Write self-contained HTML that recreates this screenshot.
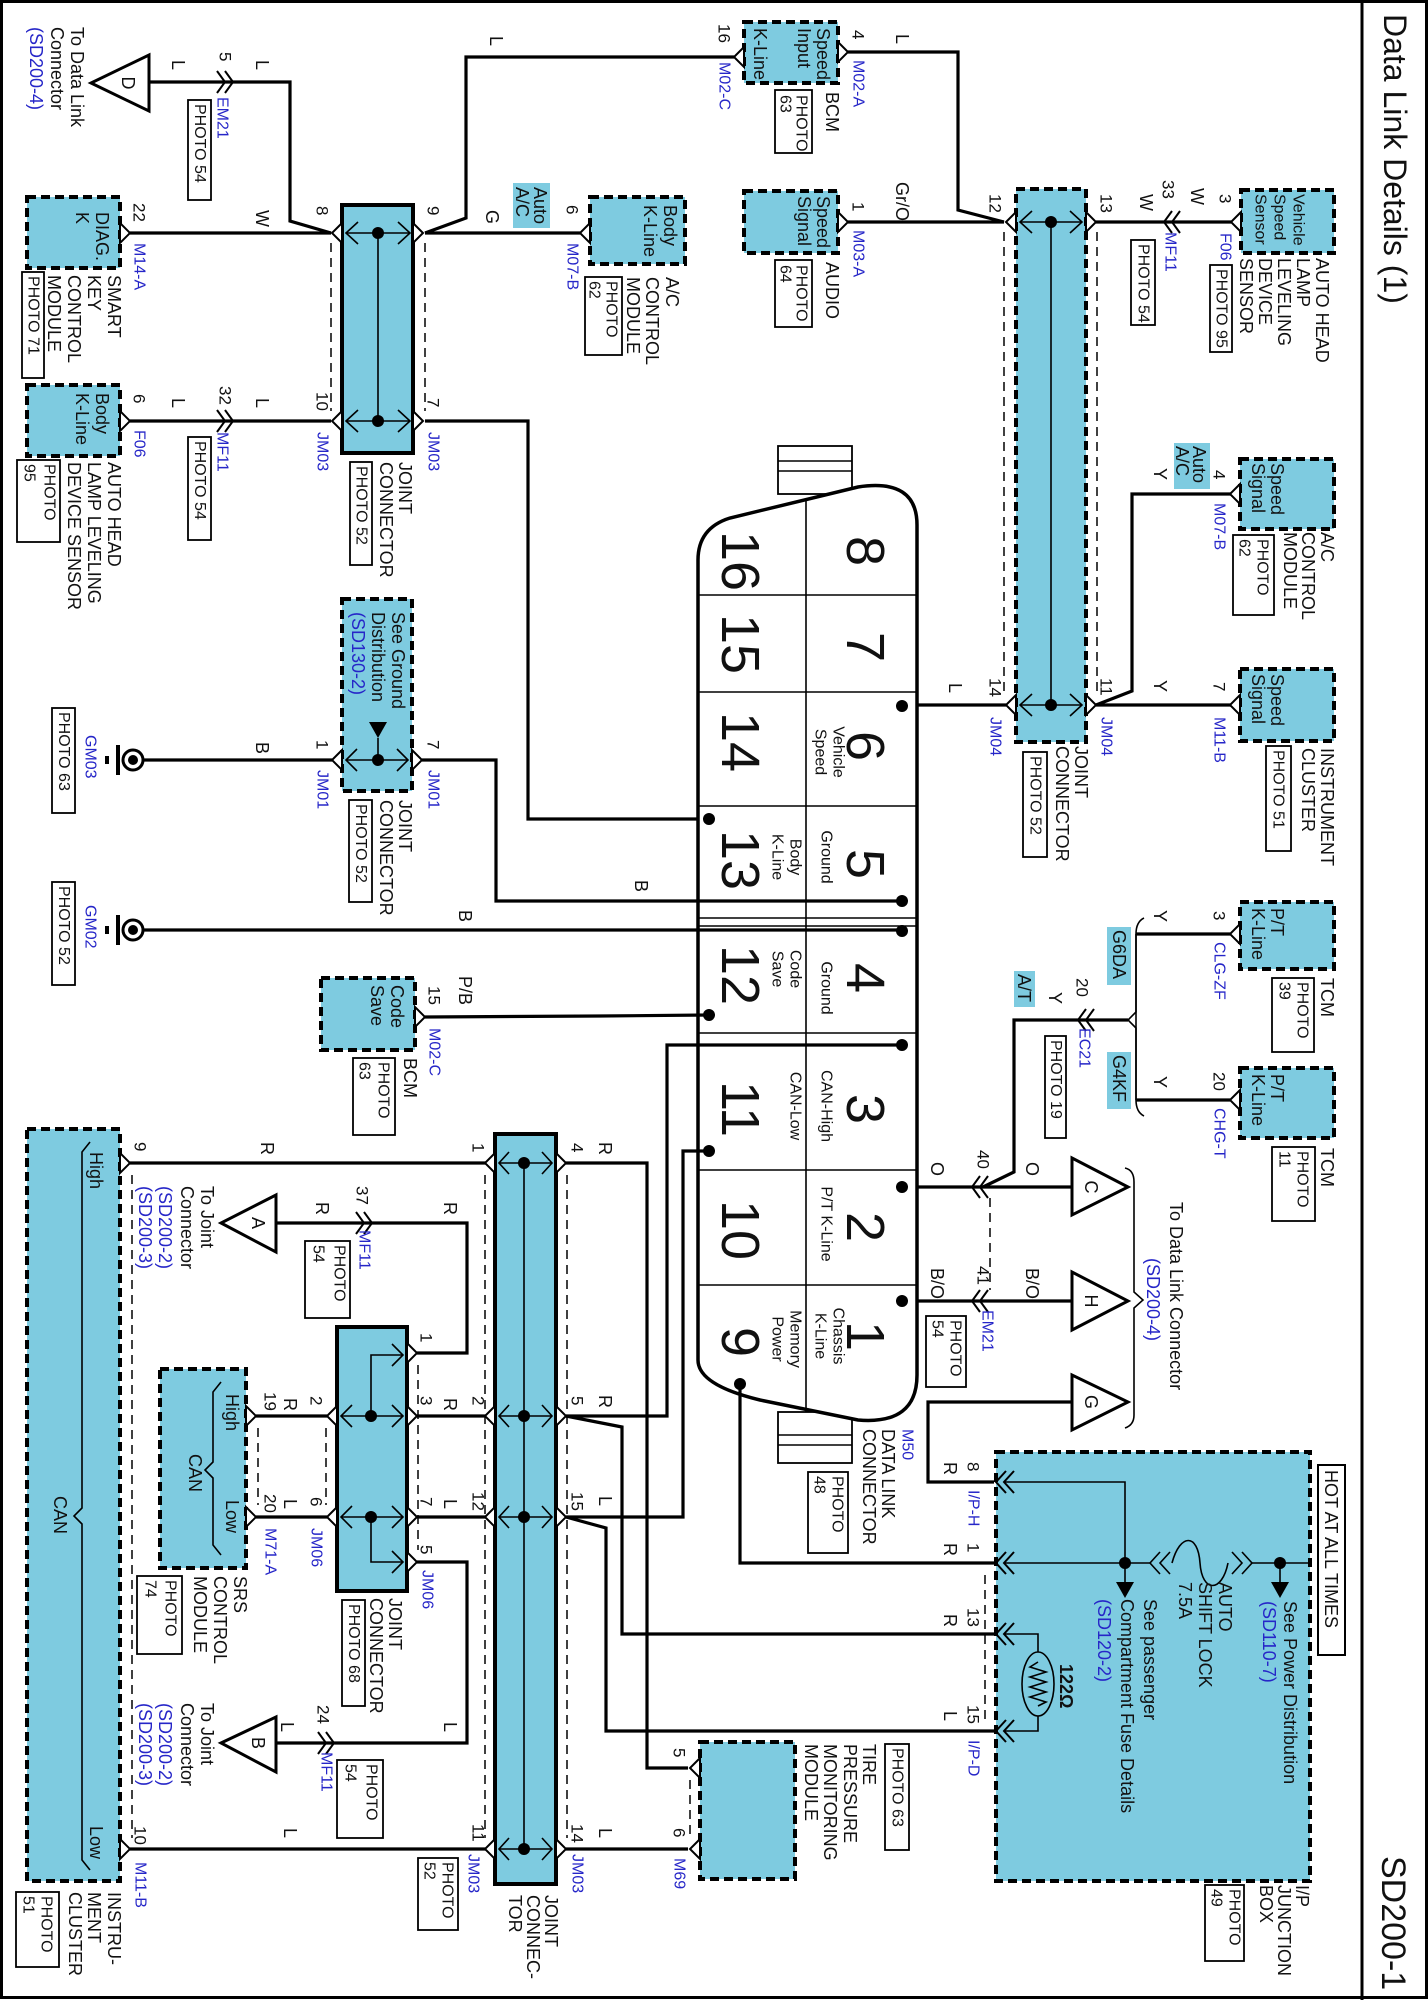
<!DOCTYPE html>
<html><head><meta charset="utf-8">
<style>
html,body{margin:0;padding:0;background:#fff}
svg{display:block}
svg text{font-family:"Liberation Sans",Arial,Helvetica,sans-serif;font-size:18px;fill:#111;dominant-baseline:central}
svg .s{font-size:16px}
svg .p{font-size:17px}
svg .b{fill:#2626c8}
svg .big{font-size:54px}
.w{fill:none;stroke:#000;stroke-width:3.2;stroke-linejoin:miter}
.th{fill:none;stroke:#000;stroke-width:1.6}
.dl{fill:none;stroke:#000;stroke-width:1.5;stroke-dasharray:9 6}
.box{fill:#7ecbe0;stroke:#000;stroke-width:4;stroke-dasharray:9 5}
.sb{fill:#7ecbe0;stroke:#000;stroke-width:4}
.ph{fill:#fff;stroke:#000;stroke-width:1.8}
.hl{fill:#7ecbe0}
.pin{fill:#fff;stroke:#000;stroke-width:2}
.ch{fill:none;stroke:#000;stroke-width:2}
</style></head><body>
<svg width="1428" height="2000" viewBox="0 0 1428 2000" xmlns="http://www.w3.org/2000/svg" font-family="Liberation Sans, Arial, sans-serif">
<rect x="1.5" y="1.5" width="1425" height="1996" fill="none" stroke="#000" stroke-width="3"/>
<line x1="1362" y1="0" x2="1362" y2="2000" stroke="#000" stroke-width="3"/>
<text transform="translate(1395,14) rotate(90)" style="font-size:32px">Data Link Details (1)</text>
<text transform="translate(1393,1856) rotate(90)" style="font-size:34px">SD200-1</text>

<!-- ============ TOP LEFT ============ -->
<polygon points="149,55 149,111 91,83" fill="#fff" stroke="#000" stroke-width="3"/>
<text transform="translate(128,83) rotate(90)" text-anchor="middle">D</text>
<text transform="translate(77,27) rotate(90)">To Data Link</text>
<text transform="translate(57,27) rotate(90)">Connector</text>
<text transform="translate(36,27) rotate(90)" class="b">(SD200-4)</text>
<polyline class="w" points="149,82 290,82 290,221 331,233"/>
<polyline class="ch" points="217,71 225,82 217,93"/><polyline class="ch" points="225,71 233,82 225,93"/>
<text transform="translate(178,60) rotate(90)">L</text>
<text transform="translate(262,60) rotate(90)">L</text>
<text class="p" transform="translate(225,52) rotate(90)">5</text>
<text class="s b" transform="translate(222,97) rotate(90)">EM21</text>
<rect class="ph" x="188" y="100" width="23" height="100"/>
<text class="s" transform="translate(199.5,104) rotate(90)">PHOTO 54</text>

<rect class="box" x="27" y="197" width="93" height="71"/>
<text transform="translate(102,212) rotate(90)">DIAG.</text>
<text transform="translate(82,212) rotate(90)">K</text>
<polygon class="pin" points="120,223 130,233 120,243"/>
<line class="w" x1="130" y1="233" x2="331" y2="233"/>
<text class="p" transform="translate(139,203) rotate(90)">22</text>
<text class="s b" transform="translate(139,243) rotate(90)">M14-A</text>
<text transform="translate(262,210) rotate(90)">W</text>
<text transform="translate(114,275) rotate(90)">SMART</text>
<text transform="translate(94,275) rotate(90)">KEY</text>
<text transform="translate(74,275) rotate(90)">CONTROL</text>
<text transform="translate(54,275) rotate(90)">MODULE</text>
<rect class="ph" x="22" y="272" width="22" height="106"/>
<text class="s" transform="translate(33,276) rotate(90)">PHOTO 71</text>

<rect class="box" x="27" y="385" width="93" height="71"/>
<text transform="translate(102,393) rotate(90)">Body</text>
<text transform="translate(82,393) rotate(90)">K-Line</text>
<polygon class="pin" points="120,411 130,421 120,431"/>
<line class="w" x1="130" y1="421" x2="331" y2="421"/>
<polyline class="ch" points="217,410 225,421 217,432"/><polyline class="ch" points="225,410 233,421 225,432"/>
<text class="p" transform="translate(139,394) rotate(90)">6</text>
<text class="s b" transform="translate(139,430) rotate(90)">F06</text>
<text class="p" transform="translate(225,386) rotate(90)">32</text>
<text transform="translate(178,398) rotate(90)">L</text>
<text transform="translate(262,398) rotate(90)">L</text>
<text class="s b" transform="translate(222,432) rotate(90)">MF11</text>
<rect class="ph" x="188" y="437" width="23" height="103"/>
<text class="s" transform="translate(199.5,441) rotate(90)">PHOTO 54</text>
<text transform="translate(114,462) rotate(90)">AUTO HEAD</text>
<text transform="translate(94,462) rotate(90)">LAMP LEVELING</text>
<text transform="translate(74,462) rotate(90)">DEVICE SENSOR</text>
<rect class="ph" x="17" y="460" width="43" height="82"/>
<text class="s" transform="translate(49,464) rotate(90)">PHOTO</text>
<text class="s" transform="translate(29,464) rotate(90)">95</text>

<!-- JM03 top -->
<rect class="sb" x="342" y="205" width="71" height="248"/>
<line class="dl" x1="331" y1="243" x2="331" y2="411"/>
<line class="dl" x1="425" y1="243" x2="425" y2="411"/>
<line class="th" x1="378" y1="233" x2="378" y2="421"/>
<line class="th" x1="346" y1="233" x2="410" y2="233"/>
<line class="th" x1="346" y1="421" x2="410" y2="421"/>
<polyline class="th" points="358,222 346,233 358,244"/><polyline class="th" points="398,222 410,233 398,244"/>
<polyline class="th" points="358,410 346,421 358,432"/><polyline class="th" points="398,410 410,421 398,432"/>
<circle cx="378" cy="233" r="6"/><circle cx="378" cy="421" r="6"/>
<polygon class="pin" points="342,223 332,233 342,243"/><polygon class="pin" points="413,223 423,233 413,243"/>
<polygon class="pin" points="342,411 332,421 342,431"/><polygon class="pin" points="413,411 423,421 413,431"/>
<text class="p" transform="translate(322,206) rotate(90)">8</text>
<text class="p" transform="translate(322,392) rotate(90)">10</text>
<text class="p" transform="translate(433,206) rotate(90)">9</text>
<text class="p" transform="translate(433,398) rotate(90)">7</text>
<text class="s b" transform="translate(322,432) rotate(90)">JM03</text>
<text class="s b" transform="translate(433,432) rotate(90)">JM03</text>
<text transform="translate(405,462) rotate(90)">JOINT</text>
<text transform="translate(386,462) rotate(90)">CONNECTOR</text>
<rect class="ph" x="350" y="462" width="22" height="103"/>
<text class="s" transform="translate(361,466) rotate(90)">PHOTO 52</text>

<line class="w" x1="425" y1="233" x2="580" y2="233"/>
<polyline class="w" points="425,233 466,218 466,57 734,57"/>
<polyline class="w" points="425,421 528,421 528,819 709,819"/>
<text transform="translate(496,36) rotate(90)">L</text>
<text transform="translate(492,210) rotate(90)">G</text>
<rect class="hl" x="513" y="183" width="37" height="45"/>
<text transform="translate(540,187) rotate(90)">Auto</text>
<text transform="translate(522,187) rotate(90)">A/C</text>
<rect class="box" x="590" y="197" width="95" height="67"/>
<polygon class="pin" points="590,223 580,233 590,243"/>
<text transform="translate(670,205) rotate(90)">Body</text>
<text transform="translate(650,205) rotate(90)">K-Line</text>
<text class="p" transform="translate(572,205) rotate(90)">6</text>
<text class="s b" transform="translate(572,243) rotate(90)">M07-B</text>
<text transform="translate(672,277) rotate(90)">A/C</text>
<text transform="translate(652,277) rotate(90)">CONTROL</text>
<text transform="translate(633,277) rotate(90)">MODULE</text>
<rect class="ph" x="585" y="277" width="37" height="78"/>
<text class="s" transform="translate(611,281) rotate(90)">PHOTO</text>
<text class="s" transform="translate(594,281) rotate(90)">62</text>

<!-- BCM top -->
<rect class="box" x="744" y="22" width="94" height="61"/>
<text transform="translate(823,28) rotate(90)">Speed</text>
<text transform="translate(804,28) rotate(90)">Input</text>
<text transform="translate(760,28) rotate(90)">K-Line</text>
<polygon class="pin" points="744,47 734,57 744,67"/>
<polygon class="pin" points="838,42 848,52 838,62"/>
<text class="p" transform="translate(724,24) rotate(90)">16</text>
<text class="s b" transform="translate(724,62) rotate(90)">M02-C</text>
<text class="p" transform="translate(858,30) rotate(90)">4</text>
<text class="s b" transform="translate(858,60) rotate(90)">M02-A</text>
<polyline class="w" points="848,52 958,52 958,210 1004,222"/>
<text transform="translate(902,34) rotate(90)">L</text>
<text transform="translate(832,92) rotate(90)">BCM</text>
<rect class="ph" x="775" y="90" width="37" height="63"/>
<text class="s" transform="translate(801,95) rotate(90)">PHOTO</text>
<text class="s" transform="translate(785,95) rotate(90)">63</text>

<rect class="box" x="744" y="191" width="94" height="62"/>
<text transform="translate(823,196) rotate(90)">Speed</text>
<text transform="translate(804,196) rotate(90)">Signal</text>
<polygon class="pin" points="838,212 848,222 838,232"/>
<line class="w" x1="848" y1="222" x2="1004" y2="222"/>
<text class="p" transform="translate(858,202) rotate(90)">1</text>
<text class="s b" transform="translate(858,230) rotate(90)">M03-A</text>
<text transform="translate(902,182) rotate(90)">Gr/O</text>
<text transform="translate(832,262) rotate(90)">AUDIO</text>
<rect class="ph" x="775" y="260" width="37" height="67"/>
<text class="s" transform="translate(801,265) rotate(90)">PHOTO</text>
<text class="s" transform="translate(785,265) rotate(90)">64</text>

<!-- JM04 -->
<rect class="box" x="1016" y="189" width="70" height="553"/>
<line class="dl" x1="1004" y1="232" x2="1004" y2="695"/>
<line class="dl" x1="1097" y1="232" x2="1097" y2="695"/>
<line class="th" x1="1051" y1="222" x2="1051" y2="705"/>
<line class="th" x1="1020" y1="222" x2="1082" y2="222"/>
<line class="th" x1="1020" y1="705" x2="1082" y2="705"/>
<polyline class="th" points="1032,211 1020,222 1032,233"/><polyline class="th" points="1070,211 1082,222 1070,233"/>
<polyline class="th" points="1032,694 1020,705 1032,716"/><polyline class="th" points="1070,694 1082,705 1070,716"/>
<circle cx="1051" cy="222" r="6"/><circle cx="1051" cy="705" r="6"/>
<polygon class="pin" points="1016,212 1006,222 1016,232"/><polygon class="pin" points="1086,212 1096,222 1086,232"/>
<polygon class="pin" points="1016,695 1006,705 1016,715"/><polygon class="pin" points="1086,695 1096,705 1086,715"/>
<text class="p" transform="translate(995,194) rotate(90)">12</text>
<text class="p" transform="translate(1106,194) rotate(90)">13</text>
<text class="p" transform="translate(995,678) rotate(90)">14</text>
<text class="p" transform="translate(1106,678) rotate(90)">11</text>
<text class="s b" transform="translate(995,717) rotate(90)">JM04</text>
<text class="s b" transform="translate(1106,717) rotate(90)">JM04</text>
<text transform="translate(1081,746) rotate(90)">JOINT</text>
<text transform="translate(1062,746) rotate(90)">CONNECTOR</text>
<rect class="ph" x="1023" y="752" width="24" height="105"/>
<text class="s" transform="translate(1035,756) rotate(90)">PHOTO 52</text>

<line class="w" x1="1096" y1="222" x2="1231" y2="222"/>
<polyline class="ch" points="1172,211 1164,222 1172,233"/><polyline class="ch" points="1180,211 1172,222 1180,233"/>
<text class="p" transform="translate(1168,180) rotate(90)">33</text>
<text transform="translate(1146,194) rotate(90)">W</text>
<text transform="translate(1197,188) rotate(90)">W</text>
<text class="s b" transform="translate(1170,232) rotate(90)">MF11</text>
<rect class="ph" x="1131" y="240" width="24" height="85"/>
<text class="s" transform="translate(1143,244) rotate(90)">PHOTO 54</text>
<rect class="box" x="1241" y="190" width="93" height="63"/>
<polygon class="pin" points="1241,212 1231,222 1241,232"/>
<text class="s" transform="translate(1298,194) rotate(90)">Vehicle</text>
<text class="s" transform="translate(1279,194) rotate(90)">Speed</text>
<text class="s" transform="translate(1260,194) rotate(90)">Sensor</text>
<text class="p" transform="translate(1225,194) rotate(90)">3</text>
<text class="s b" transform="translate(1225,233) rotate(90)">F06</text>
<rect class="ph" x="1210" y="265" width="22" height="87"/>
<text class="s" transform="translate(1221,269) rotate(90)">PHOTO 95</text>
<text transform="translate(1322,258) rotate(90)">AUTO HEAD</text>
<text transform="translate(1303,258) rotate(90)">LAMP</text>
<text transform="translate(1284,258) rotate(90)">LEVELING</text>
<text transform="translate(1265,258) rotate(90)">DEVICE</text>
<text transform="translate(1246,258) rotate(90)">SENSOR</text>

<!-- A/C speed signal + instrument -->
<polyline class="w" points="1096,705 1132,691 1132,494 1231,494"/>
<line class="w" x1="1096" y1="705" x2="1231" y2="705"/>
<line class="w" x1="903" y1="705" x2="1006" y2="705"/>
<text transform="translate(955,683) rotate(90)">L</text>
<text transform="translate(1160,468) rotate(90)">Y</text>
<text transform="translate(1160,680) rotate(90)">Y</text>
<rect class="hl" x="1174" y="443" width="36" height="46"/>
<text transform="translate(1199,446) rotate(90)">Auto</text>
<text transform="translate(1182,446) rotate(90)">A/C</text>
<rect class="box" x="1240" y="459" width="94" height="70"/>
<polygon class="pin" points="1240,484 1230,494 1240,504"/>
<text transform="translate(1277,463) rotate(90)">Speed</text>
<text transform="translate(1258,463) rotate(90)">Signal</text>
<text class="p" transform="translate(1219,470) rotate(90)">4</text>
<text class="s b" transform="translate(1219,503) rotate(90)">M07-B</text>
<text transform="translate(1327,532) rotate(90)">A/C</text>
<text transform="translate(1308,532) rotate(90)">CONTROL</text>
<text transform="translate(1290,532) rotate(90)">MODULE</text>
<rect class="ph" x="1233" y="535" width="41" height="80"/>
<text class="s" transform="translate(1262,539) rotate(90)">PHOTO</text>
<text class="s" transform="translate(1244,539) rotate(90)">62</text>

<rect class="box" x="1240" y="669" width="94" height="72"/>
<polygon class="pin" points="1240,695 1230,705 1240,715"/>
<text transform="translate(1277,674) rotate(90)">Speed</text>
<text transform="translate(1258,674) rotate(90)">Signal</text>
<text class="p" transform="translate(1219,682) rotate(90)">7</text>
<text class="s b" transform="translate(1219,717) rotate(90)">M11-B</text>
<text transform="translate(1327,748) rotate(90)">INSTRUMENT</text>
<text transform="translate(1308,748) rotate(90)">CLUSTER</text>
<rect class="ph" x="1266" y="746" width="25" height="105"/>
<text class="s" transform="translate(1278,750) rotate(90)">PHOTO 51</text>

<!-- TCM -->
<rect class="box" x="1240" y="902" width="94" height="67"/>
<polygon class="pin" points="1240,924 1230,934 1240,944"/>
<text transform="translate(1277,908) rotate(90)">P/T</text>
<text transform="translate(1258,908) rotate(90)">K-Line</text>
<text class="p" transform="translate(1219,911) rotate(90)">3</text>
<text class="s b" transform="translate(1219,942) rotate(90)">CLG-ZF</text>
<text transform="translate(1327,978) rotate(90)">TCM</text>
<rect class="ph" x="1272" y="978" width="42" height="74"/>
<text class="s" transform="translate(1302,982) rotate(90)">PHOTO</text>
<text class="s" transform="translate(1284,982) rotate(90)">39</text>
<rect class="box" x="1240" y="1068" width="94" height="70"/>
<polygon class="pin" points="1240,1090 1230,1100 1240,1110"/>
<text transform="translate(1277,1074) rotate(90)">P/T</text>
<text transform="translate(1258,1074) rotate(90)">K-Line</text>
<text class="p" transform="translate(1219,1072) rotate(90)">20</text>
<text class="s b" transform="translate(1219,1108) rotate(90)">CHG-T</text>
<text transform="translate(1327,1148) rotate(90)">TCM</text>
<rect class="ph" x="1272" y="1147" width="43" height="74"/>
<text class="s" transform="translate(1302,1151) rotate(90)">PHOTO</text>
<text class="s" transform="translate(1284,1151) rotate(90)">11</text>
<line class="w" x1="1136" y1="934" x2="1230" y2="934"/>
<line class="w" x1="1136" y1="1100" x2="1230" y2="1100"/>
<path class="th" d="M1144,918 Q1136,922 1136,934 L1136,1012 L1128,1020 L1136,1028 L1136,1100 Q1136,1112 1144,1116"/>
<line class="th" x1="1136" y1="934" x2="1136" y2="1100" stroke-width="3"/>
<text transform="translate(1160,910) rotate(90)">Y</text>
<text transform="translate(1160,1076) rotate(90)">Y</text>
<rect class="hl" x="1107" y="927" width="24" height="58"/>
<text transform="translate(1119,930) rotate(90)">G6DA</text>
<rect class="hl" x="1107" y="1052" width="24" height="57"/>
<text transform="translate(1119,1055) rotate(90)">G4KF</text>
<polyline class="w" points="1128,1020 1014,1020 1014,1172 983,1187"/>
<polyline class="ch" points="1086,1009 1078,1020 1086,1031"/><polyline class="ch" points="1094,1009 1086,1020 1094,1031"/>
<text class="p" transform="translate(1082,978) rotate(90)">20</text>
<text transform="translate(1055,992) rotate(90)">Y</text>
<rect class="hl" x="1014" y="971" width="21" height="36"/>
<text transform="translate(1024,974) rotate(90)">A/T</text>
<text class="s b" transform="translate(1084,1028) rotate(90)">EC21</text>
<rect class="ph" x="1045" y="1036" width="21" height="102"/>
<text class="s" transform="translate(1055.5,1040) rotate(90)">PHOTO 19</text>

<!-- triangles C H G -->
<line class="w" x1="903" y1="1187" x2="1072" y2="1187"/>
<polyline class="ch" points="988,1176 980,1187 988,1198"/><polyline class="ch" points="980,1176 972,1187 980,1198"/>
<text transform="translate(937,1162) rotate(90)">O</text>
<text transform="translate(1032,1162) rotate(90)">O</text>
<text class="p" transform="translate(983,1150) rotate(90)">40</text>
<line class="dl" x1="990" y1="1198" x2="990" y2="1290"/>
<polygon points="1072,1158 1072,1215 1128,1187" fill="#fff" stroke="#000" stroke-width="3"/>
<text transform="translate(1091,1187) rotate(90)" text-anchor="middle">C</text>
<line class="w" x1="903" y1="1301" x2="1072" y2="1301"/>
<polyline class="ch" points="988,1290 980,1301 988,1312"/><polyline class="ch" points="980,1290 972,1301 980,1312"/>
<text transform="translate(937,1268) rotate(90)">B/O</text>
<text transform="translate(1032,1268) rotate(90)">B/O</text>
<text class="p" transform="translate(983,1266) rotate(90)">41</text>
<text class="s b" transform="translate(987,1310) rotate(90)">EM21</text>
<rect class="ph" x="926" y="1316" width="40" height="71"/>
<text class="s" transform="translate(955,1320) rotate(90)">PHOTO</text>
<text class="s" transform="translate(937,1320) rotate(90)">54</text>
<polygon points="1072,1272 1072,1330 1128,1301" fill="#fff" stroke="#000" stroke-width="3"/>
<text transform="translate(1091,1301) rotate(90)" text-anchor="middle">H</text>
<polygon points="1072,1375 1072,1430 1128,1402" fill="#fff" stroke="#000" stroke-width="3"/>
<text transform="translate(1091,1402) rotate(90)" text-anchor="middle">G</text>
<polyline class="w" points="1072,1402 928,1402 928,1482 994,1482"/>
<path class="th" d="M1125,1168 Q1134,1170 1134,1182 L1134,1292 L1143,1300 L1134,1308 L1134,1415 Q1134,1425 1125,1428"/>
<text transform="translate(1176,1202) rotate(90)">To Data Link Connector</text>
<text class="b" transform="translate(1153,1258) rotate(90)">(SD200-4)</text>

<!-- ============ DATA LINK CONNECTOR ============ -->
<rect x="778" y="446" width="74" height="48" fill="#fff" stroke="#000" stroke-width="1.8"/>
<line class="th" x1="778" y1="461" x2="852" y2="461"/><line class="th" x1="778" y1="471" x2="852" y2="471"/>
<rect x="778" y="1412" width="74" height="51" fill="#fff" stroke="#000" stroke-width="1.8"/>
<line class="th" x1="778" y1="1435" x2="852" y2="1435"/><line class="th" x1="778" y1="1445" x2="852" y2="1445"/>
<path d="M698,560 Q698,528 730,518 L858,487 Q917,478 917,525 L917,1375 Q917,1425 858,1420 L760,1400 Q698,1385 698,1360 Z" fill="#fff" stroke="#000" stroke-width="3.5"/>
<line class="th" x1="806" y1="500" x2="806" y2="1412"/>
<line class="th" x1="698" y1="595" x2="917" y2="595"/>
<line class="th" x1="698" y1="692" x2="917" y2="692"/>
<line class="th" x1="698" y1="806" x2="917" y2="806"/>
<line class="th" x1="698" y1="918" x2="917" y2="918"/>
<line class="th" x1="698" y1="926" x2="917" y2="926"/>
<line class="th" x1="698" y1="1033" x2="917" y2="1033"/>
<line class="th" x1="698" y1="1170" x2="917" y2="1170"/>
<line class="th" x1="698" y1="1285" x2="917" y2="1285"/>
<text class="big" transform="translate(865,551) rotate(90)" text-anchor="middle">8</text>
<text class="big" transform="translate(865,647) rotate(90)" text-anchor="middle">7</text>
<text class="big" transform="translate(865,746) rotate(90)" text-anchor="middle">6</text>
<text class="big" transform="translate(865,864) rotate(90)" text-anchor="middle">5</text>
<text class="big" transform="translate(865,978) rotate(90)" text-anchor="middle">4</text>
<text class="big" transform="translate(865,1109) rotate(90)" text-anchor="middle">3</text>
<text class="big" transform="translate(865,1227) rotate(90)" text-anchor="middle">2</text>
<text class="big" transform="translate(865,1336) rotate(90)" text-anchor="middle">1</text>
<text class="big" transform="translate(740,561) rotate(90)" text-anchor="middle">16</text>
<text class="big" transform="translate(740,644) rotate(90)" text-anchor="middle">15</text>
<text class="big" transform="translate(740,742) rotate(90)" text-anchor="middle">14</text>
<text class="big" transform="translate(740,860) rotate(90)" text-anchor="middle">13</text>
<text class="big" transform="translate(740,975) rotate(90)" text-anchor="middle">12</text>
<text class="big" transform="translate(740,1109) rotate(90)" text-anchor="middle">11</text>
<text class="big" transform="translate(740,1230) rotate(90)" text-anchor="middle">10</text>
<text class="big" transform="translate(740,1342) rotate(90)" text-anchor="middle">9</text>
<text class="s" transform="translate(838,752) rotate(90)" text-anchor="middle">Vehicle</text>
<text class="s" transform="translate(820,752) rotate(90)" text-anchor="middle">Speed</text>
<text class="s" transform="translate(826,857) rotate(90)" text-anchor="middle">Ground</text>
<text class="s" transform="translate(795,857) rotate(90)" text-anchor="middle">Body</text>
<text class="s" transform="translate(777,857) rotate(90)" text-anchor="middle">K-Line</text>
<text class="s" transform="translate(826,988) rotate(90)" text-anchor="middle">Ground</text>
<text class="s" transform="translate(795,969) rotate(90)" text-anchor="middle">Code</text>
<text class="s" transform="translate(777,969) rotate(90)" text-anchor="middle">Save</text>
<text class="s" transform="translate(826,1106) rotate(90)" text-anchor="middle">CAN-High</text>
<text class="s" transform="translate(795,1106) rotate(90)" text-anchor="middle">CAN-Low</text>
<text class="s" transform="translate(826,1224) rotate(90)" text-anchor="middle">P/T K-Line</text>
<text class="s" transform="translate(838,1336) rotate(90)" text-anchor="middle">Chassis</text>
<text class="s" transform="translate(820,1336) rotate(90)" text-anchor="middle">K-Line</text>
<text class="s" transform="translate(795,1339) rotate(90)" text-anchor="middle">Memory</text>
<text class="s" transform="translate(777,1339) rotate(90)" text-anchor="middle">Power</text>
<circle cx="902" cy="706" r="6"/><circle cx="902" cy="901" r="6"/><circle cx="902" cy="931" r="6"/>
<circle cx="902" cy="1045" r="6"/><circle cx="902" cy="1187" r="6"/><circle cx="902" cy="1301" r="6"/>
<circle cx="709" cy="819" r="6"/><circle cx="709" cy="1015" r="6"/><circle cx="709" cy="1151" r="6"/>
<circle cx="740" cy="1384" r="6"/>
<text class="s b" transform="translate(907,1429) rotate(90)">M50</text>
<text transform="translate(888,1429) rotate(90)">DATA LINK</text>
<text transform="translate(869,1429) rotate(90)">CONNECTOR</text>
<rect class="ph" x="808" y="1472" width="40" height="81"/>
<text class="s" transform="translate(837,1476) rotate(90)">PHOTO</text>
<text class="s" transform="translate(819,1476) rotate(90)">48</text>

<!-- ============ GROUNDS / JM01 ============ -->
<rect class="box" x="342" y="599" width="70" height="192"/>
<text transform="translate(398,612) rotate(90)">See Ground</text>
<text transform="translate(378,612) rotate(90)">Distribution</text>
<text class="b" transform="translate(358,612) rotate(90)">(SD130-2)</text>
<polygon points="369,722 387,722 378,738"/>
<line class="th" x1="378" y1="738" x2="378" y2="760"/>
<line class="th" x1="346" y1="760" x2="408" y2="760"/>
<polyline class="th" points="357,749 346,760 357,771"/><polyline class="th" points="397,749 408,760 397,771"/>
<circle cx="378" cy="760" r="6"/>
<polygon class="pin" points="342,750 332,760 342,770"/><polygon class="pin" points="412,750 422,760 412,770"/>
<text class="p" transform="translate(322,740) rotate(90)">1</text>
<text class="p" transform="translate(433,740) rotate(90)">7</text>
<text class="s b" transform="translate(322,770) rotate(90)">JM01</text>
<text class="s b" transform="translate(433,770) rotate(90)">JM01</text>
<text transform="translate(405,800) rotate(90)">JOINT</text>
<text transform="translate(386,800) rotate(90)">CONNECTOR</text>
<rect class="ph" x="349" y="800" width="23" height="102"/>
<text class="s" transform="translate(360.5,804) rotate(90)">PHOTO 52</text>
<line class="w" x1="141" y1="760" x2="332" y2="760"/>
<polyline class="w" points="422,760 496,760 496,901 903,901"/>
<line class="w" x1="141" y1="930" x2="903" y2="930"/>
<text transform="translate(262,742) rotate(90)">B</text>
<text transform="translate(641,880) rotate(90)">B</text>
<text transform="translate(465,910) rotate(90)">B</text>
<g>
<circle cx="133" cy="760" r="10" fill="#fff" stroke="#000" stroke-width="3"/><circle cx="133" cy="760" r="5"/>
<line x1="118" y1="745" x2="118" y2="775" stroke="#000" stroke-width="4"/>
<line x1="107" y1="756" x2="107" y2="764" stroke="#000" stroke-width="4"/>
<circle cx="133" cy="930" r="10" fill="#fff" stroke="#000" stroke-width="3"/><circle cx="133" cy="930" r="5"/>
<line x1="118" y1="915" x2="118" y2="945" stroke="#000" stroke-width="4"/>
<line x1="107" y1="926" x2="107" y2="934" stroke="#000" stroke-width="4"/>
</g>
<text class="s b" transform="translate(90,735) rotate(90)">GM03</text>
<rect class="ph" x="52" y="708" width="23" height="105"/>
<text class="s" transform="translate(63.5,712) rotate(90)">PHOTO 63</text>
<text class="s b" transform="translate(90,905) rotate(90)">GM02</text>
<rect class="ph" x="52" y="882" width="23" height="103"/>
<text class="s" transform="translate(63.5,886) rotate(90)">PHOTO 52</text>

<rect class="box" x="321" y="978" width="94" height="72"/>
<text transform="translate(397,985) rotate(90)">Code</text>
<text transform="translate(377,985) rotate(90)">Save</text>
<polygon class="pin" points="415,1007 425,1017 415,1027"/>
<polyline class="w" points="425,1017 600,1016 709,1015"/>
<text class="p" transform="translate(434,986) rotate(90)">15</text>
<text transform="translate(465,976) rotate(90)">P/B</text>
<text class="s b" transform="translate(434,1028) rotate(90)">M02-C</text>
<text transform="translate(410,1058) rotate(90)">BCM</text>
<rect class="ph" x="353" y="1058" width="42" height="77"/>
<text class="s" transform="translate(383,1062) rotate(90)">PHOTO</text>
<text class="s" transform="translate(364,1062) rotate(90)">63</text>

<!-- ============ LOWER LEFT ============ -->
<rect class="box" x="27" y="1129" width="93" height="752"/>
<path class="th" d="M90,1142 L82,1152 L82,1508 L74,1516 L82,1524 L82,1860 L90,1870"/>
<text transform="translate(96,1152) rotate(90)">High</text>
<text transform="translate(60,1496) rotate(90)">CAN</text>
<text transform="translate(96,1826) rotate(90)">Low</text>
<polygon class="pin" points="120,1153 130,1163 120,1173"/>
<polygon class="pin" points="120,1839 130,1849 120,1859"/>
<line class="dl" x1="132" y1="1175" x2="132" y2="1838"/>
<text class="p" transform="translate(140,1142) rotate(90)">9</text>
<text class="p" transform="translate(140,1826) rotate(90)">10</text>
<text class="s b" transform="translate(140,1862) rotate(90)">M11-B</text>
<text transform="translate(114,1892) rotate(90)">INSTRU-</text>
<text transform="translate(94,1892) rotate(90)">MENT</text>
<text transform="translate(75,1892) rotate(90)">CLUSTER</text>
<rect class="ph" x="16" y="1892" width="43" height="75"/>
<text class="s" transform="translate(46,1896) rotate(90)">PHOTO</text>
<text class="s" transform="translate(28,1896) rotate(90)">51</text>
<line class="w" x1="130" y1="1163" x2="486" y2="1163"/>
<line class="w" x1="130" y1="1849" x2="486" y2="1849"/>
<text transform="translate(267,1142) rotate(90)">R</text>
<text transform="translate(290,1828) rotate(90)">L</text>

<!-- triangle A & B -->
<polygon points="276,1195 276,1252 221,1223" fill="#fff" stroke="#000" stroke-width="3"/>
<text transform="translate(258,1223) rotate(90)" text-anchor="middle">A</text>
<polyline class="w" points="276,1223 467,1223 467,1353 417,1353"/>
<polyline class="ch" points="356,1212 364,1223 356,1234"/><polyline class="ch" points="364,1212 372,1223 364,1234"/>
<text transform="translate(322,1202) rotate(90)">R</text>
<text transform="translate(450,1202) rotate(90)">R</text>
<text class="p" transform="translate(362,1186) rotate(90)">37</text>
<text class="s b" transform="translate(364,1230) rotate(90)">MF11</text>
<rect class="ph" x="305" y="1241" width="45" height="77"/>
<text class="s" transform="translate(339,1245) rotate(90)">PHOTO</text>
<text class="s" transform="translate(318,1245) rotate(90)">54</text>
<text transform="translate(207,1186) rotate(90)">To Joint</text>
<text transform="translate(187,1186) rotate(90)">Connector</text>
<text class="b" transform="translate(165,1186) rotate(90)">(SD200-2)</text>
<text class="b" transform="translate(145,1186) rotate(90)">(SD200-3)</text>

<polygon points="276,1717 276,1772 221,1743" fill="#fff" stroke="#000" stroke-width="3"/>
<text transform="translate(258,1743) rotate(90)" text-anchor="middle">B</text>
<polyline class="w" points="276,1743 467,1743 467,1562 417,1562"/>
<polyline class="ch" points="318,1732 326,1743 318,1754"/><polyline class="ch" points="326,1732 334,1743 326,1754"/>
<text transform="translate(287,1722) rotate(90)">L</text>
<text transform="translate(450,1722) rotate(90)">L</text>
<text class="p" transform="translate(323,1705) rotate(90)">24</text>
<text class="s b" transform="translate(326,1752) rotate(90)">MF11</text>
<rect class="ph" x="337" y="1760" width="46" height="78"/>
<text class="s" transform="translate(371,1764) rotate(90)">PHOTO</text>
<text class="s" transform="translate(350,1764) rotate(90)">54</text>
<text transform="translate(207,1703) rotate(90)">To Joint</text>
<text transform="translate(187,1703) rotate(90)">Connector</text>
<text class="b" transform="translate(165,1703) rotate(90)">(SD200-2)</text>
<text class="b" transform="translate(145,1703) rotate(90)">(SD200-3)</text>

<!-- SRS -->
<rect class="box" x="160" y="1369" width="86" height="199"/>
<path class="th" d="M221,1382 L213,1392 L213,1462 L205,1470 L213,1478 L213,1545 L221,1555"/>
<text transform="translate(232,1394) rotate(90)">High</text>
<text transform="translate(195,1454) rotate(90)">CAN</text>
<text transform="translate(232,1500) rotate(90)">Low</text>
<polygon class="pin" points="246,1406 256,1416 246,1426"/>
<polygon class="pin" points="246,1507 256,1517 246,1527"/>
<line class="dl" x1="258" y1="1428" x2="258" y2="1505"/>
<line class="w" x1="256" y1="1416" x2="327" y2="1416"/>
<line class="w" x1="256" y1="1517" x2="327" y2="1517"/>
<text class="p" transform="translate(270,1392) rotate(90)">19</text>
<text transform="translate(290,1398) rotate(90)">R</text>
<text class="p" transform="translate(270,1494) rotate(90)">20</text>
<text transform="translate(290,1499) rotate(90)">L</text>
<text class="s b" transform="translate(270,1528) rotate(90)">M71-A</text>
<text transform="translate(240,1576) rotate(90)">SRS</text>
<text transform="translate(220,1576) rotate(90)">CONTROL</text>
<text transform="translate(200,1576) rotate(90)">MODULE</text>
<rect class="ph" x="137" y="1576" width="45" height="78"/>
<text class="s" transform="translate(170,1580) rotate(90)">PHOTO</text>
<text class="s" transform="translate(150,1580) rotate(90)">74</text>

<!-- JM06 -->
<rect class="sb" x="337" y="1327" width="70" height="264"/>
<line class="dl" x1="326" y1="1428" x2="326" y2="1505"/>
<line class="dl" x1="418" y1="1365" x2="418" y2="1550"/>
<line class="th" x1="341" y1="1416" x2="403" y2="1416"/>
<line class="th" x1="341" y1="1517" x2="403" y2="1517"/>
<polyline class="th" points="371,1416 371,1355 403,1355"/>
<polyline class="th" points="371,1517 371,1562 403,1562"/>
<polyline class="th" points="352,1405 341,1416 352,1427"/><polyline class="th" points="392,1405 403,1416 392,1427"/>
<polyline class="th" points="352,1506 341,1517 352,1528"/><polyline class="th" points="392,1506 403,1517 392,1528"/>
<polyline class="th" points="392,1344 403,1355 392,1366"/><polyline class="th" points="392,1551 403,1562 392,1573"/>
<circle cx="371" cy="1416" r="6"/><circle cx="371" cy="1517" r="6"/>
<polygon class="pin" points="337,1406 327,1416 337,1426"/><polygon class="pin" points="337,1507 327,1517 337,1527"/>
<polygon class="pin" points="407,1343 417,1353 407,1363"/><polygon class="pin" points="407,1406 417,1416 407,1426"/>
<polygon class="pin" points="407,1507 417,1517 407,1527"/><polygon class="pin" points="407,1552 417,1562 407,1572"/>
<text class="p" transform="translate(426,1333) rotate(90)">1</text>
<text class="p" transform="translate(426,1396) rotate(90)">3</text>
<text class="p" transform="translate(426,1497) rotate(90)">7</text>
<text class="p" transform="translate(426,1545) rotate(90)">5</text>
<text class="p" transform="translate(316,1396) rotate(90)">2</text>
<text class="p" transform="translate(316,1497) rotate(90)">6</text>
<text class="s b" transform="translate(316,1528) rotate(90)">JM06</text>
<text class="s b" transform="translate(427,1570) rotate(90)">JM06</text>
<text transform="translate(395,1598) rotate(90)">JOINT</text>
<text transform="translate(376,1598) rotate(90)">CONNECTOR</text>
<rect class="ph" x="342" y="1600" width="23" height="106"/>
<text class="s" transform="translate(353.5,1604) rotate(90)">PHOTO 68</text>
<line class="w" x1="417" y1="1416" x2="486" y2="1416"/>
<line class="w" x1="417" y1="1517" x2="486" y2="1517"/>
<text transform="translate(450,1398) rotate(90)">R</text>
<text transform="translate(450,1499) rotate(90)">L</text>

<!-- JM03 bottom -->
<rect class="sb" x="495" y="1134" width="61" height="750"/>
<line class="dl" x1="485" y1="1175" x2="485" y2="1838"/>
<line class="dl" x1="567" y1="1175" x2="567" y2="1838"/>
<line class="th" x1="524" y1="1163" x2="524" y2="1849"/>
<g class="th">
<line x1="499" y1="1163" x2="552" y2="1163"/><line x1="499" y1="1416" x2="552" y2="1416"/>
<line x1="499" y1="1517" x2="552" y2="1517"/><line x1="499" y1="1849" x2="552" y2="1849"/>
<polyline points="509,1152 499,1163 509,1174"/><polyline points="542,1152 552,1163 542,1174"/>
<polyline points="509,1405 499,1416 509,1427"/><polyline points="542,1405 552,1416 542,1427"/>
<polyline points="509,1506 499,1517 509,1528"/><polyline points="542,1506 552,1517 542,1528"/>
<polyline points="509,1838 499,1849 509,1860"/><polyline points="542,1838 552,1849 542,1860"/>
</g>
<circle cx="524" cy="1163" r="6"/><circle cx="524" cy="1416" r="6"/><circle cx="524" cy="1517" r="6"/><circle cx="524" cy="1849" r="6"/>
<polygon class="pin" points="495,1153 485,1163 495,1173"/><polygon class="pin" points="556,1153 566,1163 556,1173"/>
<polygon class="pin" points="495,1406 485,1416 495,1426"/><polygon class="pin" points="556,1406 566,1416 556,1426"/>
<polygon class="pin" points="495,1507 485,1517 495,1527"/><polygon class="pin" points="556,1507 566,1517 556,1527"/>
<polygon class="pin" points="495,1839 485,1849 495,1859"/><polygon class="pin" points="556,1839 566,1849 556,1859"/>
<text class="p" transform="translate(478,1143) rotate(90)">1</text>
<text class="p" transform="translate(478,1396) rotate(90)">2</text>
<text class="p" transform="translate(478,1492) rotate(90)">12</text>
<text class="p" transform="translate(478,1824) rotate(90)">11</text>
<text class="p" transform="translate(577,1143) rotate(90)">4</text>
<text class="p" transform="translate(577,1396) rotate(90)">5</text>
<text class="p" transform="translate(577,1492) rotate(90)">15</text>
<text class="p" transform="translate(577,1824) rotate(90)">14</text>
<text class="s b" transform="translate(473,1854) rotate(90)">JM03</text>
<text class="s b" transform="translate(577,1854) rotate(90)">JM03</text>
<rect class="ph" x="418" y="1858" width="40" height="72"/>
<text class="s" transform="translate(447,1862) rotate(90)">PHOTO</text>
<text class="s" transform="translate(429,1862) rotate(90)">52</text>
<text transform="translate(551,1895) rotate(90)">JOINT</text>
<text transform="translate(533,1895) rotate(90)">CONNEC-</text>
<text transform="translate(515,1895) rotate(90)">TOR</text>

<!-- right side wires of JM03 bottom -->
<polyline class="w" points="566,1163 647,1163 647,1768 688,1768"/>
<line class="w" x1="566" y1="1849" x2="688" y2="1849"/>
<polyline class="w" points="566,1416 667,1416 667,1045 903,1045"/>
<polyline class="w" points="566,1517 683,1517 683,1151 709,1151"/>
<polyline class="w" points="566,1416 622,1427 622,1634 996,1634"/>
<polyline class="w" points="566,1517 606,1528 606,1731 996,1731"/>
<polyline class="w" points="740,1384 740,1563 996,1563"/>
<text transform="translate(605,1142) rotate(90)">R</text>
<text transform="translate(605,1395) rotate(90)">R</text>
<text transform="translate(605,1496) rotate(90)">L</text>
<text transform="translate(605,1828) rotate(90)">L</text>

<!-- TPMS -->
<rect class="box" x="700" y="1742" width="95" height="137"/>
<polygon class="pin" points="700,1758 690,1768 700,1778"/>
<polygon class="pin" points="700,1839 690,1849 700,1859"/>
<line class="dl" x1="690" y1="1780" x2="690" y2="1838"/>
<text class="p" transform="translate(679,1748) rotate(90)">5</text>
<text class="p" transform="translate(679,1828) rotate(90)">6</text>
<text class="s b" transform="translate(679,1858) rotate(90)">M69</text>
<text transform="translate(869,1744) rotate(90)">TIRE</text>
<text transform="translate(850,1744) rotate(90)">PRESSURE</text>
<text transform="translate(830,1744) rotate(90)">MONITORING</text>
<text transform="translate(811,1744) rotate(90)">MODULE</text>
<rect class="ph" x="885" y="1744" width="24" height="106"/>
<text class="s" transform="translate(897,1748) rotate(90)">PHOTO 63</text>

<!-- ============ IP JUNCTION BOX ============ -->
<rect class="box" x="996" y="1452" width="314" height="429"/>
<rect x="1318" y="1465" width="27" height="190" fill="#fff" stroke="#000" stroke-width="2"/>
<text transform="translate(1331,1470) rotate(90)">HOT AT ALL TIMES</text>
<g class="ch">
<polyline points="1006,1471 996,1482 1006,1493"/><polyline points="1014,1471 1004,1482 1014,1493"/>
<polyline points="1006,1552 996,1563 1006,1574"/><polyline points="1014,1552 1004,1563 1014,1574"/>
<polyline points="1006,1623 996,1634 1006,1645"/><polyline points="1014,1623 1004,1634 1014,1645"/>
<polyline points="1006,1720 996,1731 1006,1742"/><polyline points="1014,1720 1004,1731 1014,1742"/>
</g>
<line class="dl" x1="985" y1="1575" x2="985" y2="1722"/>
<text class="p" transform="translate(973,1462) rotate(90)">8</text>
<text transform="translate(950,1462) rotate(90)">R</text>
<text class="p" transform="translate(973,1543) rotate(90)">1</text>
<text transform="translate(950,1543) rotate(90)">R</text>
<text class="p" transform="translate(973,1608) rotate(90)">13</text>
<text transform="translate(950,1614) rotate(90)">R</text>
<text class="p" transform="translate(973,1705) rotate(90)">15</text>
<text transform="translate(950,1711) rotate(90)">L</text>
<text class="s b" transform="translate(973,1490) rotate(90)">I/P-H</text>
<text class="s b" transform="translate(973,1740) rotate(90)">I/P-D</text>
<polyline class="th" points="1004,1482 1125,1482 1125,1583"/>
<line class="th" x1="1004" y1="1563" x2="1150" y2="1563"/>
<polygon points="1116,1582 1134,1582 1125,1598"/>
<circle cx="1125" cy="1563" r="6"/>
<polyline class="th" points="1160,1552 1150,1563 1160,1574"/><polyline class="th" points="1170,1552 1160,1563 1170,1574"/>
<path class="th" d="M1172,1563 C1180,1533 1198,1533 1200,1563 C1202,1593 1222,1593 1228,1563"/>
<polyline class="th" points="1232,1552 1242,1563 1232,1574"/><polyline class="th" points="1242,1552 1252,1563 1242,1574"/>
<line class="th" x1="1252" y1="1563" x2="1310" y2="1563"/>
<line class="th" x1="1280" y1="1563" x2="1280" y2="1583"/>
<polygon points="1271,1582 1289,1582 1280,1598"/>
<circle cx="1280" cy="1563" r="6"/>
<text transform="translate(1150,1599) rotate(90)">See passenger</text>
<text transform="translate(1127,1599) rotate(90)">Compartment Fuse Details</text>
<text class="b" transform="translate(1104,1599) rotate(90)">(SD120-2)</text>
<text transform="translate(1225,1582) rotate(90)">AUTO</text>
<text transform="translate(1205,1582) rotate(90)">SHIFT LOCK</text>
<text transform="translate(1185,1582) rotate(90)">7.5A</text>
<text transform="translate(1290,1601) rotate(90)">See Power Distribution</text>
<text class="b" transform="translate(1269,1601) rotate(90)">(SD110-7)</text>
<polyline class="th" points="1004,1634 1038,1634 1038,1652"/>
<polyline class="th" points="1038,1716 1038,1731 1004,1731"/>
<ellipse cx="1038" cy="1684" rx="16" ry="32" fill="none" stroke="#000" stroke-width="1.6"/>
<polyline class="th" points="1038,1662 1030,1667 1046,1672 1030,1677 1046,1682 1030,1687 1046,1692 1030,1697 1046,1702 1038,1706"/>
<text transform="translate(1066,1664) rotate(90)" style="font-weight:bold">122Ω</text>
<text transform="translate(1302,1885) rotate(90)">I/P</text>
<text transform="translate(1284,1885) rotate(90)">JUNCTION</text>
<text transform="translate(1266,1885) rotate(90)">BOX</text>
<rect class="ph" x="1205" y="1885" width="39" height="76"/>
<text class="s" transform="translate(1234,1889) rotate(90)">PHOTO</text>
<text class="s" transform="translate(1216,1889) rotate(90)">49</text>
</svg>
</body></html>
